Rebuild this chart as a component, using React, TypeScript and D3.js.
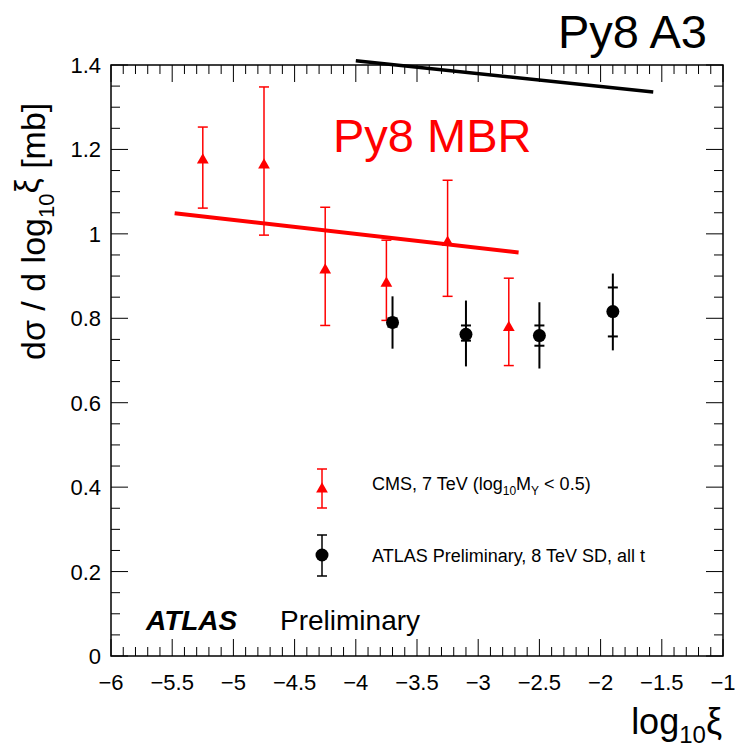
import React from "react";
import * as d3 from "d3";

const cmsX = [-5.25, -4.75, -4.25, -3.75, -3.25, -2.75];
const cmsY = [1.175, 1.163, 0.914, 0.883, 0.98, 0.778];
const cmsHi = [1.253, 1.348, 1.063, 0.985, 1.127, 0.895];
const cmsLo = [1.061, 0.997, 0.783, 0.795, 0.852, 0.688];

const atlasX = [-3.7, -3.1, -2.5, -1.9];
const atlasY = [0.79, 0.762, 0.759, 0.816];
const atlasHi = [0.852, 0.842, 0.838, 0.906];
const atlasLo = [0.728, 0.686, 0.681, 0.724];
const atlasStatHi = [0.80, 0.783, 0.783, 0.873];
const atlasStatLo = [0.78, 0.747, 0.735, 0.757];

const mbrLine = [[-5.48, 1.049], [-2.67, 0.956]];
const a3Line = [[-4.0, 1.41], [-1.57, 1.336]];

const xTicks = [-6, -5.5, -5, -4.5, -4, -3.5, -3, -2.5, -2, -1.5, -1];
const yTicks = [0, 0.2, 0.4, 0.6, 0.8, 1, 1.2, 1.4];

const W = 735, H = 752;
const L = 111, R = 723, T = 65, B = 656;
const FONT = "'Liberation Sans', Arial, Helvetica, sans-serif";

export default function App() {
  const x = d3.scaleLinear().domain([-6, -1]).range([L, R]);
  const y = d3.scaleLinear().domain([0, 1.4]).range([B, T]);
  const xMinor = d3.range(-6, -0.99, 0.1).map((v) => +v.toFixed(2));
  const yMinor = d3.range(0, 1.401, 0.05).map((v) => +v.toFixed(3));
  const line = d3.line<number[]>().x((d) => x(d[0])).y((d) => y(d[1]));
  const tri = d3.symbol().type(d3.symbolTriangle).size(60)();
  const cap = 5;

  return (
    <svg width={W} height={H} style={{ position: "absolute", left: 0, top: 0, background: "#fff" }} fontFamily={FONT}>
      <rect x={0} y={0} width={W} height={H} fill="#fff" />
      {/* ticks */}
      {xMinor.map((v, i) => {
        const major = Math.abs(v * 2 - Math.round(v * 2)) < 1e-6;
        const len = major ? 17 : 9;
        return (
          <g key={"xt" + i} stroke="#000" strokeWidth={1}>
            <line x1={x(v)} x2={x(v)} y1={B} y2={B - len} />
            <line x1={x(v)} x2={x(v)} y1={T} y2={T + len} />
          </g>
        );
      })}
      {yMinor.map((v, i) => {
        const major = Math.abs(v * 5 - Math.round(v * 5)) < 1e-6;
        const len = major ? 17 : 9;
        return (
          <g key={"yt" + i} stroke="#000" strokeWidth={1}>
            <line x1={L} x2={L + len} y1={y(v)} y2={y(v)} />
            <line x1={R} x2={R - len} y1={y(v)} y2={y(v)} />
          </g>
        );
      })}
      <rect x={L} y={T} width={R - L} height={B - T} fill="none" stroke="#000" strokeWidth={1.5} />
      {/* tick labels */}
      {xTicks.map((v) => (
        <text key={"xl" + v} x={x(v)} y={690} fontSize={22} textAnchor="middle">
          {String(v).replace("-", "\u2212")}
        </text>
      ))}
      {yTicks.map((v) => (
        <text key={"yl" + v} x={101} y={y(v) + 8} fontSize={22} textAnchor="end">
          {String(v)}
        </text>
      ))}
      {/* axis titles */}
      <text transform="translate(45,360) rotate(-90)" fontSize={34} textAnchor="start">
        dσ / d log<tspan fontSize={22} dy={9}>10</tspan><tspan dy={-16}>ξ</tspan><tspan dy={7}> [mb]</tspan>
      </text>
      <text x={722} y={734} fontSize={36} textAnchor="end">
        log<tspan fontSize={24} dy={9}>10</tspan><tspan dy={-9}>ξ</tspan>
      </text>
      {/* model lines */}
      <path d={line(mbrLine) || ""} stroke="#ff0000" strokeWidth={4} fill="none" />
      <path d={line(a3Line) || ""} stroke="#000" strokeWidth={3.5} fill="none" />
      <text x={333} y={152} fontSize={47} fill="#ff0000">Py8 MBR</text>
      <text x={558} y={48} fontSize={47} fill="#000">Py8 A3</text>
      {/* CMS points */}
      {cmsX.map((v, i) => (
        <g key={"c" + i} stroke="#ff0000" strokeWidth={1.5}>
          <line x1={x(v)} x2={x(v)} y1={y(cmsHi[i])} y2={y(cmsLo[i])} />
          <line x1={x(v) - cap} x2={x(v) + cap} y1={y(cmsHi[i])} y2={y(cmsHi[i])} />
          <line x1={x(v) - cap} x2={x(v) + cap} y1={y(cmsLo[i])} y2={y(cmsLo[i])} />
          <path d={tri || ""} transform={`translate(${x(v)},${y(cmsY[i])})`} fill="#ff0000" stroke="none" />
        </g>
      ))}
      {/* ATLAS points */}
      {atlasX.map((v, i) => (
        <g key={"a" + i} stroke="#000" strokeWidth={2}>
          <line x1={x(v)} x2={x(v)} y1={y(atlasHi[i])} y2={y(atlasLo[i])} />
          <line x1={x(v) - cap} x2={x(v) + cap} y1={y(atlasStatHi[i])} y2={y(atlasStatHi[i])} />
          <line x1={x(v) - cap} x2={x(v) + cap} y1={y(atlasStatLo[i])} y2={y(atlasStatLo[i])} />
          <circle cx={x(v)} cy={y(atlasY[i])} r={6.5} fill="#000" stroke="none" />
        </g>
      ))}
      {/* legend */}
      <g stroke="#ff0000" strokeWidth={1.5}>
        <line x1={322} x2={322} y1={469} y2={508} />
        <line x1={317} x2={327} y1={469} y2={469} />
        <line x1={317} x2={327} y1={508} y2={508} />
        <path d={tri || ""} transform="translate(322,489)" fill="#ff0000" stroke="none" />
      </g>
      <text x={372} y={490} fontSize={18}>
        CMS, 7 TeV (log<tspan fontSize={12} dy={5}>10</tspan><tspan dy={-5}>M</tspan><tspan fontSize={12} dy={5}>Y</tspan><tspan dy={-5}> &lt; 0.5)</tspan>
      </text>
      <g stroke="#000" strokeWidth={1.5}>
        <line x1={322} x2={322} y1={535} y2={576} />
        <line x1={317} x2={327} y1={535} y2={535} />
        <line x1={317} x2={327} y1={576} y2={576} />
        <circle cx={322} cy={555} r={6.5} fill="#000" stroke="none" />
      </g>
      <text x={372} y={562} fontSize={18}>ATLAS Preliminary, 8 TeV SD, all t</text>
      {/* ATLAS label */}
      <text x={146} y={630} fontSize={28} fontWeight="bold" fontStyle="italic">ATLAS</text>
      <text x={280} y={630} fontSize={28}>Preliminary</text>
    </svg>
  );
}
